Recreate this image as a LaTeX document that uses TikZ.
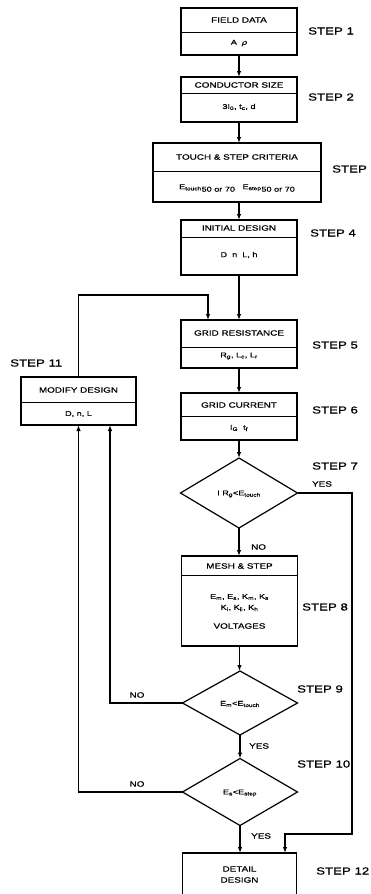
\documentclass[tikz,border=0pt]{standalone}
\usepackage{fontspec}
\setmainfont{Liberation Sans}[FakeStretch=1.3, FakeBold=0.8]
\usetikzlibrary{arrows.meta,shapes.geometric}
\begin{document}
\begin{tikzpicture}[x=1pt,y=-1pt,
  box/.style={draw, line width=1.25pt, inner sep=0pt, outer sep=0pt, minimum width=116, anchor=center},
  dia/.style={draw, diamond, line width=1.2pt, inner sep=0pt, outer sep=0pt, aspect=1.7},
  hd/.style={font=\fontsize{7.6}{8}\selectfont, inner sep=0pt},
  ct/.style={font=\fontsize{7}{8}\selectfont, inner sep=0pt},
  lbl/.style={font=\fontsize{10.2}{12}\selectfont, anchor=west, inner sep=0pt},
  yn/.style={font=\fontsize{7.6}{8}\selectfont, inner sep=0pt},
  arr/.style={line width=1.1pt, -{Latex[length=6pt,width=4.5pt]}},
  ln/.style={line width=1pt}]
\useasboundingbox (0,0) rectangle (371,894);

% boxes
\node[box, minimum height=47] (b1) at (239,31.5) {};
\draw[ln] (b1.west |- 0,32) -- (b1.east |- 0,32);
\node[hd] (b1h) at (239,20) {FIELD DATA};
\node[ct] (b1c) at (239,43) {A\ \ \itshape ρ};

\node[box, minimum height=45] (b2) at (239,99.5) {};
\draw[ln] (b2.west |- 0,93) -- (b2.east |- 0,93);
\node[hd] (b2h) at (239,85) {CONDUCTOR SIZE};
\node[ct] (b2c) at (239,107) {3I\textsubscript{0}, t\textsubscript{c}, d};

\node[box, minimum height=59, minimum width=168] (b3) at (237,172.5) {};
\draw[ln] (b3.west |- 0,171) -- (b3.east |- 0,171);
\node[hd] (b3h) at (237,157) {TOUCH \& STEP CRITERIA};
\node[ct] (b3c) at (237,188) {E\textsubscript{touch}\raisebox{-2.5pt}{50 or 70}\ \ \ E\textsubscript{step}\raisebox{-2.5pt}{50 or 70}};

\node[box, minimum height=55] (b4) at (239,247.5) {};
\draw[ln] (b4.west |- 0,237) -- (b4.east |- 0,237);
\node[hd] (b4h) at (239,228) {INITIAL DESIGN};
\node[ct] (b4c) at (239,255) {D\ \ n\ \ L, h};

\node[box, minimum height=48] (b5) at (239,344) {};
\draw[ln] (b5.west |- 0,347) -- (b5.east |- 0,347);
\node[hd] (b5h) at (239,333) {GRID RESISTANCE};
\node[ct] (b5c) at (239,356) {R\textsubscript{g}, L\textsubscript{c}, L\textsubscript{r}};

\node[box, minimum height=47] (b6) at (239,416.5) {};
\draw[ln] (b6.west |- 0,416) -- (b6.east |- 0,416);
\node[hd] (b6h) at (239,405) {GRID CURRENT};
\node[ct] (b6c) at (239,428) {I\textsubscript{G}\ \ t\textsubscript{f}};

\node[dia, minimum width=117, minimum height=70] (d1) at (239,493) {};
\node[ct] (d1t) at (239,494) {I R\textsubscript{g}<E\textsubscript{touch}};

\node[box, minimum height=90] (b8) at (239.5,601) {};
\draw[ln] (b8.west |- 0,575) -- (b8.east |- 0,575);
\node[hd] (b8h) at (239.5,566) {MESH \& STEP};
\node[ct] (b8c1) at (239.5,597) {E\textsubscript{m}, E\textsubscript{s}, K\textsubscript{m}, K\textsubscript{s}};
\node[ct] (b8c2) at (239.5,608) {K\textsubscript{i}, K\textsubscript{ii}, K\textsubscript{h}};
\node[hd] (b8c3) at (239.5,626) {VOLTAGES};

\node[dia, minimum width=115, minimum height=64] (d2) at (240,703) {};
\node[ct] (d2t) at (240,704) {E\textsubscript{m}<E\textsubscript{touch}};

\node[dia, minimum width=115, minimum height=67] (d3) at (240,792) {};
\node[ct] (d3t) at (240,793) {E\textsubscript{s}<E\textsubscript{step}};

\node[box, minimum height=48, minimum width=115] (b11) at (78.5,401) {};
\draw[ln] (b11.west |- 0,402) -- (b11.east |- 0,402);
\node[hd] (b11h) at (78.5,390) {MODIFY DESIGN};
\node[ct] (b11c) at (78.5,414) {D, n, L};

\node[box, minimum height=42, minimum width=114] (b12) at (239.5,874) {};
\node[hd, align=center] (b12t) at (239.5,874.5) {DETAIL\\[3pt]DESIGN};

% step labels
\node[lbl] (s1) at (308,31) {STEP 1};
\node[lbl] (s2) at (308,97) {STEP 2};
\node[lbl] (s3) at (332,169) {STEP 3};
\node[lbl] (s4) at (310,233) {STEP 4};
\node[lbl] (s5) at (312,345) {STEP 5};
\node[lbl] (s6) at (312,410) {STEP 6};
\node[lbl] (s7) at (312,466) {STEP 7};
\node[lbl] (s8) at (302,607) {STEP 8};
\node[lbl] (s9) at (297,689) {STEP 9};
\node[lbl] (s10) at (297,764) {STEP 10};
\node[lbl] (s11) at (10,363) {STEP 11};
\node[lbl] (s12) at (316,871) {STEP 12};

% main arrows
\draw[arr] (b1.south) -- (b1.south |- b2.north);
\draw[arr] (b2.south) -- (b2.south |- b3.north);
\draw[arr] (b2.south |- b3.south) -- (b2.south |- b4.north);
\draw[arr] (b4.south) -- (b4.south |- b5.north);
\draw[arr] (b5.south) -- (b5.south |- b6.north);
\draw[arr] (b6.south) -- (b6.south |- d1.north);
\draw[arr] (d1.south) -- (d1.south |- b8.north);
\draw[arr] (b8.south) -- (b8.south |- d2.north);
\draw[arr] (d2.south) -- (d2.south |- d3.north);
\draw[arr] (d3.south) -- (d3.south |- b12.north);

% feedback to grid resistance
\coordinate (f1) at (208,295);
\draw[arr] (b11.north) |- (f1) -- (f1 |- b5.north);

% YES from step 7
\coordinate (y1) at (352,834);
\coordinate (y2) at (285,834);
\draw[arr] (d1.east) -| (y1) -- (y2) -- (y2 |- b12.north);
\node[yn] (yes1) at (322,484) {YES};
\node[yn, anchor=west] (no1) at (251,547) {NO};

% NO from step 9
\coordinate (n2) at (110,703);
\draw[arr] (d2.west) -- (n2) -- (n2 |- b11.south);
\node[yn] (no2) at (137,695) {NO};
\node[yn, anchor=west] (yes2) at (249,746) {YES};

% NO from step 10
\draw[arr] (d3.west) -| (b11.south);
\node[yn] (no3) at (137,784) {NO};
\node[yn, anchor=west] (yes3) at (251,836) {YES};
\end{tikzpicture}
\end{document}
